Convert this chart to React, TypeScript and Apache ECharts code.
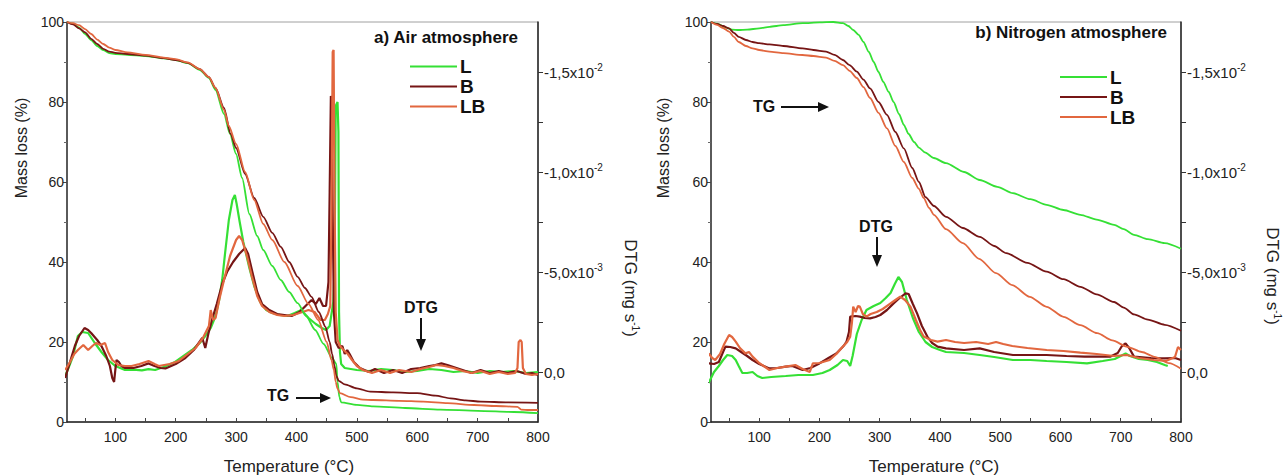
import React, { useEffect, useRef } from "react";
import * as echarts from "echarts";

// ---------- tick labels ----------
const tempLabelValues = [100, 200, 300, 400, 500, 600, 700, 800];
const tempTickValues = [50, 100, 150, 200, 250, 300, 350, 400, 450, 500, 550, 600, 650, 700, 750, 800];
const dtgTickValues = [-15, -12.5, -10, -7.5, -5, -2.5, 0];
const dtgLabelValues = [-15, -10, -5, 0];
const dtgLabelMantissa = ["-1,5x10", "-1,0x10", "-5,0x10", "0,0"];
const dtgLabelExponent = ["-2", "-2", "-3", ""];
const seriesNames = ["L", "B", "LB"];

// ---------- a) Air atmosphere : TG (mass %) vs temperature (°C) ----------
const airTG_L: number[][] = [[20,100],[30,99.6],[40,98.6],[50,97],[60,95.5],[70,94],[80,93],[90,92.2],[100,92],[120,91.8],[150,91.5],[180,90.9],[200,90.5],[220,89.7],[240,88],[255,86],[266,83],[280,77],[290,72],[300,67],[310,61],[322,52],[335,46.5],[345,43],[360,39],[374,35.5],[388,32.5],[402,29.7],[416,26.5],[431,23],[445,19.5],[459,16],[466,14.5],[468,10],[471,6.3],[474,4.9],[500,4.3],[527,3.9],[580,3.5],[638,3.1],[700,2.8],[760,2.5],[800,2.2]];
const airTG_B: number[][] = [[20,100],[30,99.4],[40,98.4],[50,97.4],[60,95.8],[70,94.5],[80,93.3],[90,92.6],[100,92.3],[120,92],[150,91.6],[180,91],[200,90.5],[220,89.8],[240,88.2],[255,86.2],[266,83.5],[280,78.5],[291,72],[300,68.5],[315,62],[330,56],[345,51.3],[360,47.3],[374,43.8],[388,40],[402,36.3],[414,33.5],[425,31.3],[437,27.5],[448,23.8],[455,20],[459,17],[463,14],[466,11.5],[470,10.3],[480,9.4],[500,8.4],[522,7.6],[560,7.4],[600,7.2],[630,6.6],[655,5.9],[680,5.4],[705,5.1],[750,4.9],[800,4.8]];
const airTG_LB: number[][] = [[20,100],[30,99.7],[40,99.2],[50,98.2],[60,97],[70,95.6],[80,94.5],[90,93.6],[100,93],[120,92.4],[150,91.8],[180,91.1],[200,90.7],[220,89.9],[240,88.2],[255,86.2],[266,83.5],[280,78],[288,74],[300,69.5],[315,62.5],[330,55.5],[345,49.5],[360,45.5],[380,40],[402,34],[420,29.5],[436,25.5],[450,20],[458,15.5],[462,13],[465,10],[468,8.4],[472,7.2],[490,6.2],[510,5.6],[527,5.5],[570,5.3],[610,5.1],[650,4.7],[694,4.25],[730,4.0],[766,3.8],[772,3.1],[785,3.0],[800,3.0]];

// ---------- a) Air atmosphere : DTG (x10^-3 mg s^-1) ----------
const airDTG_L: number[][] = [[17,0.2],[25,-0.4],[30,-0.8],[38,-1.8],[45,-2.0],[55,-1.95],[66,-1.45],[77,-1.0],[88,-0.6],[100,-0.3],[116,-0.1],[130,-0.12],[144,-0.08],[155,-0.14],[166,-0.1],[180,-0.25],[199,-0.5],[213,-0.8],[227,-1.1],[240,-1.45],[249,-1.8],[258,-2.2],[266,-2.8],[272,-3.6],[277,-4.6],[282,-6.0],[288,-7.6],[294,-8.6],[298,-8.85],[301,-8.4],[306,-7.5],[312,-6.5],[322,-5.2],[330,-4.3],[340,-3.5],[350,-3.1],[360,-2.95],[372,-2.85],[385,-2.8],[397,-2.95],[408,-3.1],[420,-2.7],[432,-2.4],[442,-2.2],[449,-2.1],[455,-2.3],[461,-3.5],[463,-5],[465,-13.3],[468,-13.5],[469.5,-12],[470.5,-3],[472,-1],[474,-0.4],[480,-0.2],[500,-0.1],[520,-0.05],[540,-0.15],[560,-0.1],[580,0],[600,-0.05],[620,-0.15],[640,-0.1],[660,0],[680,-0.05],[700,0.05],[720,-0.05],[740,0],[760,-0.05],[780,0.05],[800,0]];
const airDTG_B: number[][] = [[17,0.3],[25,-0.5],[33,-1.3],[40,-1.8],[49,-2.2],[55,-2.1],[60,-1.95],[70,-1.6],[77,-1.3],[85,-0.8],[91,-0.3],[95,0.3],[98,0.5],[100,-0.1],[102,-0.6],[106,-0.5],[110,-0.3],[116,-0.2],[130,-0.2],[143,-0.3],[155,-0.43],[165,-0.3],[175,-0.2],[183,-0.18],[200,-0.4],[216,-0.7],[230,-1.1],[244,-1.7],[249,-1.2],[254,-1.9],[260,-2.6],[268,-3.4],[277,-4.4],[285,-5.0],[295,-5.5],[305,-5.9],[315,-6.2],[320,-5.9],[327,-5.0],[335,-4.0],[343,-3.4],[355,-3.1],[368,-2.9],[380,-2.85],[392,-2.8],[405,-3.0],[415,-3.3],[425,-3.6],[432,-3.4],[438,-3.7],[444,-3.3],[449,-3.3],[453,-4.5],[455,-9],[457,-13.8],[458.5,-13.5],[460,-8],[462,-3],[465,-1.5],[470,-1.2],[476,-1.3],[480,-0.9],[484,-1.1],[488,-0.9],[495,-0.5],[505,-0.2],[520,0.0],[530,-0.15],[545,0.05],[560,-0.1],[575,0.05],[590,-0.15],[605,-0.2],[620,-0.3],[630,-0.35],[640,-0.43],[650,-0.35],[665,-0.2],[680,-0.05],[690,0.05],[705,-0.1],[720,0.05],[735,-0.05],[750,0.05],[765,-0.05],[780,0.1],[790,0.05],[800,0.15]];
const airDTG_LB: number[][] = [[17,-0.1],[25,-0.5],[32,-0.9],[38,-1.1],[47,-1.35],[55,-1.1],[62,-1.3],[68,-1.45],[75,-1.35],[83,-1.45],[88,-1.0],[95,-0.6],[105,-0.35],[116,-0.3],[127,-0.3],[140,-0.4],[155,-0.55],[165,-0.4],[172,-0.3],[190,-0.4],[205,-0.55],[220,-0.9],[233,-1.2],[245,-1.7],[255,-2.3],[258,-3.1],[262,-2.6],[266,-2.7],[272,-3.6],[280,-4.6],[290,-5.8],[300,-6.6],[305,-6.8],[310,-6.6],[318,-5.8],[326,-4.8],[335,-3.8],[343,-3.3],[355,-3.0],[368,-2.85],[380,-2.8],[395,-2.85],[410,-3.0],[420,-3.1],[430,-3.0],[440,-2.6],[447,-2.6],[452,-2.9],[456,-3.3],[458,-8],[460,-16],[461.5,-16.1],[463,-9],[465,-3],[468,-1.6],[472,-1.3],[478,-1.1],[485,-0.9],[492,-0.6],[500,-0.3],[510,-0.1],[525,0.05],[540,-0.1],[555,0.05],[570,-0.1],[590,0.0],[605,-0.15],[620,-0.25],[632,-0.35],[645,-0.3],[660,-0.2],[675,-0.05],[690,0.05],[705,-0.05],[720,0.1],[735,0.0],[750,0.1],[762,0.05],[766,-0.2],[768,-1.5],[771,-1.6],[773,-1.5],[775,-0.2],[780,0.1],[790,0.15],[800,0.1]];

// ---------- b) Nitrogen atmosphere : TG (mass %) ----------
const n2TG_L: number[][] = [[20,100],[30,99.6],[45,98.6],[55,98.1],[66,98],[80,98.1],[100,98.4],[117,98.8],[140,99.2],[172,99.7],[200,99.9],[223,100],[239,99.7],[248,99],[256,98],[265,96.8],[273,95],[282,92.5],[290,90],[298,87.5],[306,85],[315,82.5],[323,80],[332,77],[340,74.3],[348,72],[357,70],[365,68.6],[375,67.4],[390,66],[410,64.7],[440,62.5],[466,60.5],[495,58.8],[521,57.2],[550,55.7],[577,54.3],[605,53],[633,51.8],[660,50.6],[689,49.3],[705,48.2],[722,46.8],[745,45.7],[773,44.7],[800,43.3]];
const n2TG_B: number[][] = [[20,100],[30,99.5],[40,99],[50,98.4],[58,97.3],[66,96.3],[78,95.5],[89,95],[100,94.7],[117,94.4],[140,94],[172,93.4],[190,93],[211,92.6],[225,91.8],[239,90.5],[250,89.2],[262,87.6],[273,85.6],[284,83.4],[298,80],[312,76.8],[326,72.5],[340,68.4],[354,63.5],[365,60],[376,56.2],[390,54],[410,51.3],[438,48.5],[466,46.3],[490,44],[510,42.2],[545,39.8],[577,37.6],[605,35.7],[633,33.8],[660,31.9],[689,30],[705,28.6],[722,26.9],[745,25.6],[773,24.3],[800,22.8]];
const n2TG_LB: number[][] = [[20,100],[30,99.3],[40,98.5],[50,97.6],[58,96.3],[66,95],[78,94],[89,93.4],[100,93],[117,92.6],[140,92.2],[172,91.75],[190,91.5],[211,91.1],[225,90.3],[239,89.2],[250,87.8],[262,86],[273,83.7],[284,81],[298,77.3],[312,73.4],[326,69],[340,65],[354,61],[365,58.3],[373,56],[382,53.5],[390,51.8],[410,48.2],[438,44.7],[465,40.8],[493,37.2],[520,34.2],[549,31.3],[577,28.8],[605,26.3],[633,24.2],[661,22.2],[686,20.4],[711,18.8],[735,17.5],[756,16.3],[780,14.7],[800,13.3]];

// ---------- b) Nitrogen atmosphere : DTG (x10^-3 mg s^-1) ----------
const n2DTG_L: number[][] = [[16,0.55],[25,0],[33,-0.3],[40,-0.6],[47,-0.85],[55,-0.8],[61,-0.6],[66,-0.3],[72,0.05],[80,0.05],[89,0.0],[97,0.2],[105,0.3],[120,0.25],[144,0.2],[165,0.15],[189,0.15],[205,0.05],[217,-0.1],[230,-0.35],[239,-0.6],[246,-0.55],[251,-0.3],[255,-0.8],[262,-1.9],[270,-2.6],[278,-3.1],[290,-3.3],[301,-3.45],[310,-3.7],[318,-3.95],[325,-4.4],[331,-4.75],[337,-4.5],[345,-3.6],[355,-2.7],[365,-2.0],[376,-1.5],[387,-1.25],[400,-1.1],[410,-1.0],[440,-0.95],[466,-0.85],[490,-0.75],[521,-0.6],[550,-0.6],[577,-0.55],[610,-0.5],[644,-0.43],[670,-0.55],[690,-0.65],[700,-0.8],[708,-0.93],[715,-0.8],[730,-0.65],[745,-0.6],[760,-0.5],[773,-0.35],[778,-0.3]];
const n2DTG_B: number[][] = [[16,-0.43],[25,-0.4],[33,-0.5],[40,-1.0],[44,-1.27],[52,-1.25],[61,-1.18],[70,-1.0],[80,-0.8],[89,-0.6],[100,-0.4],[117,-0.18],[130,-0.2],[144,-0.27],[155,-0.3],[172,-0.1],[185,-0.2],[200,-0.43],[215,-0.7],[228,-0.93],[240,-1.3],[245,-1.52],[249,-2.0],[251,-2.77],[260,-2.8],[267,-2.77],[275,-2.7],[284,-2.68],[293,-2.75],[301,-2.85],[312,-3.1],[323,-3.43],[333,-3.7],[343,-3.93],[348,-3.9],[355,-3.4],[362,-2.93],[370,-2.3],[379,-1.77],[387,-1.45],[396,-1.27],[410,-1.18],[440,-1.1],[466,-1.18],[490,-1.0],[521,-0.85],[550,-0.85],[577,-0.85],[610,-0.8],[640,-0.77],[683,-0.77],[695,-0.95],[702,-1.3],[708,-1.43],[714,-1.2],[722,-0.77],[750,-0.7],[773,-0.68],[790,-0.7],[800,-0.6]];
const n2DTG_LB: number[][] = [[16,-0.93],[22,-0.7],[27,-0.6],[35,-0.9],[42,-1.4],[50,-1.85],[55,-1.75],[61,-1.52],[68,-1.2],[77,-0.93],[83,-1.0],[89,-0.77],[100,-0.45],[117,-0.1],[130,-0.2],[144,-0.27],[160,-0.35],[172,-0.15],[184,0.0],[189,-0.43],[200,-0.45],[217,-0.6],[228,-0.9],[239,-1.27],[246,-1.5],[251,-1.77],[254,-2.5],[256,-3.27],[260,-3.0],[264,-3.3],[267,-3.27],[272,-2.9],[278,-2.77],[285,-2.9],[295,-3.0],[305,-3.15],[318,-3.43],[326,-3.6],[334,-3.77],[342,-3.6],[351,-3.27],[360,-2.6],[367,-2.1],[373,-1.77],[385,-1.6],[396,-1.52],[410,-1.6],[425,-1.5],[440,-1.45],[460,-1.5],[480,-1.4],[493,-1.5],[505,-1.4],[520,-1.3],[545,-1.2],[577,-1.1],[605,-1.05],[633,-0.97],[660,-0.9],[689,-0.8],[710,-0.85],[730,-0.7],[755,-0.6],[775,-0.55],[790,-0.75],[795,-1.25],[800,-1.1]];

const COLORS: Record<string, string> = { L: "#35e035", B: "#761515", LB: "#e2673f" };
const FONT = "'Liberation Sans', Arial, sans-serif";
const TXT = "#222";

function buildOption() {
  const grids = [
    { left: 67, top: 22, width: 471, height: 400, show: true, borderColor: "#a0a0a0", borderWidth: 1 },
    { left: 711, top: 22, width: 470, height: 400, show: true, borderColor: "#a0a0a0", borderWidth: 1 },
  ];
  const xAxes = [0, 1].map((g) => ({
    type: "value", gridIndex: g, min: 20, max: 800,
    axisLine: { show: true, onZero: false, lineStyle: { color: "#222", width: 1.5 } },
    axisTick: { show: true, inside: true, length: 4, customValues: tempTickValues, lineStyle: { color: "#444" } },
    axisLabel: { customValues: tempLabelValues, fontSize: 14, color: TXT, fontFamily: FONT, margin: 8 },
    splitLine: { show: false },
  }));
  const dtgFmt = (v: number) => {
    const i = dtgLabelValues.findIndex((t) => Math.abs(t - v) < 1e-6);
    if (i < 0) return "";
    return dtgLabelExponent[i] ? `{b|${dtgLabelMantissa[i]}}{s|${dtgLabelExponent[i]}}` : `{b|${dtgLabelMantissa[i]}}`;
  };
  const yAxes: any[] = [];
  [0, 1].forEach((g) => {
    yAxes.push({
      type: "value", gridIndex: g, min: 0, max: 100, interval: 20, position: "left",
      axisLine: { show: true, onZero: false, lineStyle: { color: "#333", width: 1.5 } },
      axisTick: { show: true, length: 4, lineStyle: { color: "#444" } },
      minorTick: { show: true, splitNumber: 2, length: 3, lineStyle: { color: "#666" } },
      axisLabel: { fontSize: 14, color: TXT, fontFamily: FONT, margin: 3 },
      splitLine: { show: false },
    });
    yAxes.push({
      type: "value", gridIndex: g, min: -17.5, max: 2.5, inverse: true, position: "right",
      axisLine: { show: true, onZero: false, lineStyle: { color: "#222", width: 1.5 } },
      axisTick: { show: true, length: 5, customValues: dtgTickValues, lineStyle: { color: "#333" } },
      axisLabel: {
        customValues: dtgLabelValues, formatter: dtgFmt, margin: 6,
        rich: {
          b: { fontSize: 15, color: TXT, fontFamily: FONT, lineHeight: 20 },
          s: { fontSize: 10, color: TXT, fontFamily: FONT, lineHeight: 10, verticalAlign: "top" },
        },
      },
      splitLine: { show: false },
    });
  });

  const tgSets = [[airTG_L, airTG_B, airTG_LB], [n2TG_L, n2TG_B, n2TG_LB]];
  const dtgSets = [[airDTG_L, airDTG_B, airDTG_LB], [n2DTG_L, n2DTG_B, n2DTG_LB]];
  const series: any[] = [];
  [0, 1].forEach((g) => {
    seriesNames.forEach((name, k) => {
      series.push({
        type: "line", name, xAxisIndex: g, yAxisIndex: g * 2 + 1, data: dtgSets[g][k],
        showSymbol: false, symbol: "none", color: COLORS[name],
        lineStyle: { width: 2.2, color: COLORS[name] }, z: 2,
      });
    });
    seriesNames.forEach((name, k) => {
      series.push({
        type: "line", name, xAxisIndex: g, yAxisIndex: g * 2, data: tgSets[g][k],
        showSymbol: false, symbol: "none", smooth: 0.25, smoothMonotone: "x", color: COLORS[name],
        lineStyle: { width: 1.8, color: COLORS[name] }, z: 3,
      });
    });
  });

  const legendBase = {
    data: seriesNames, orient: "vertical", icon: "rect", itemWidth: 47, itemHeight: 2,
    textStyle: { fontSize: 19, fontWeight: "bold", color: "#111", fontFamily: FONT, padding: [0, 0, 0, -2] },
    selectedMode: false,
  };
  const legends = [
    { ...legendBase, left: 405, top: 52, itemGap: 1 },
    { ...legendBase, left: 1055, top: 62.5, itemGap: 1 },
  ];

  const boldText = (text: string, x: number, y: number, align = "center", size = 15) => ({
    type: "text", x, y, silent: true,
    style: { text, fill: "#111", font: `bold ${size}px ${FONT}`, align, verticalAlign: "middle" },
  });
  const hArrow = (x1: number, x2: number, y: number) => [
    { type: "line", silent: true, shape: { x1, y1: y, x2: x2 - 9, y2: y }, style: { stroke: "#111", lineWidth: 2 } },
    { type: "polygon", silent: true, shape: { points: [[x2 - 11, y - 5], [x2, y], [x2 - 11, y + 5]] }, style: { fill: "#111" } },
  ];
  const vArrow = (x: number, y1: number, y2: number) => [
    { type: "line", silent: true, shape: { x1: x, y1, x2: x, y2: y2 - 10 }, style: { stroke: "#111", lineWidth: 2 } },
    { type: "polygon", silent: true, shape: { points: [[x - 5, y2 - 12], [x, y2], [x + 5, y2 - 12]] }, style: { fill: "#111" } },
  ];
  const rotText = (text: string, x: number, y: number, rotation: number, size: number, rich?: any) => ({
    type: "text", x, y, rotation, silent: true,
    style: { text, fill: TXT, font: `${size}px ${FONT}`, align: "center", verticalAlign: "middle", rich },
  });
  const supRich = { s: { fontSize: 10, fontFamily: FONT, fill: TXT, verticalAlign: "top", lineHeight: 10 }, m: { fontSize: 17, fontFamily: FONT, fill: TXT, lineHeight: 21 } };

  const graphic = [
    boldText("a) Air atmosphere", 518, 37, "right", 17),
    boldText("b) Nitrogen atmosphere", 1167, 32, "right", 17),
    boldText("TG", 278, 395, "center", 16),
    ...hArrow(296, 331, 398),
    boldText("DTG", 421, 307, "center", 16),
    ...vArrow(421, 318, 351),
    boldText("TG", 764, 106, "center", 16),
    ...hArrow(781, 829, 107),
    boldText("DTG", 876, 226, "center", 16),
    ...vArrow(877, 237, 267),
    rotText("Mass loss (%)", 21, 148, Math.PI / 2, 16),
    rotText("Mass loss (%)", 663, 148, Math.PI / 2, 16),
    rotText("{m|DTG (mg s}{s|-1}{m|)}", 630, 288, -Math.PI / 2, 17, supRich),
    rotText("{m|DTG (mg s}{s|-1}{m|)}", 1272, 276, -Math.PI / 2, 17, supRich),
    { type: "text", x: 289, y: 466, silent: true, style: { text: "Temperature (°C)", fill: TXT, font: `17px ${FONT}`, align: "center", verticalAlign: "middle" } },
    { type: "text", x: 934, y: 466, silent: true, style: { text: "Temperature (°C)", fill: TXT, font: `17px ${FONT}`, align: "center", verticalAlign: "middle" } },
  ];

  return {
    animation: false,
    backgroundColor: "#ffffff",
    textStyle: { fontFamily: FONT },
    grid: grids,
    xAxis: xAxes,
    yAxis: yAxes,
    legend: legends,
    series,
    graphic,
  };
}

export default function App() {
  const ref = useRef<HTMLDivElement>(null);
  useEffect(() => {
    if (!ref.current) return;
    const chart = echarts.init(ref.current, null, { renderer: "svg" });
    chart.setOption(buildOption() as any);
    return () => chart.dispose();
  }, []);
  return <div ref={ref} style={{ position: "fixed", left: 0, top: 0, width: 1284, height: 476 }} />;
}
